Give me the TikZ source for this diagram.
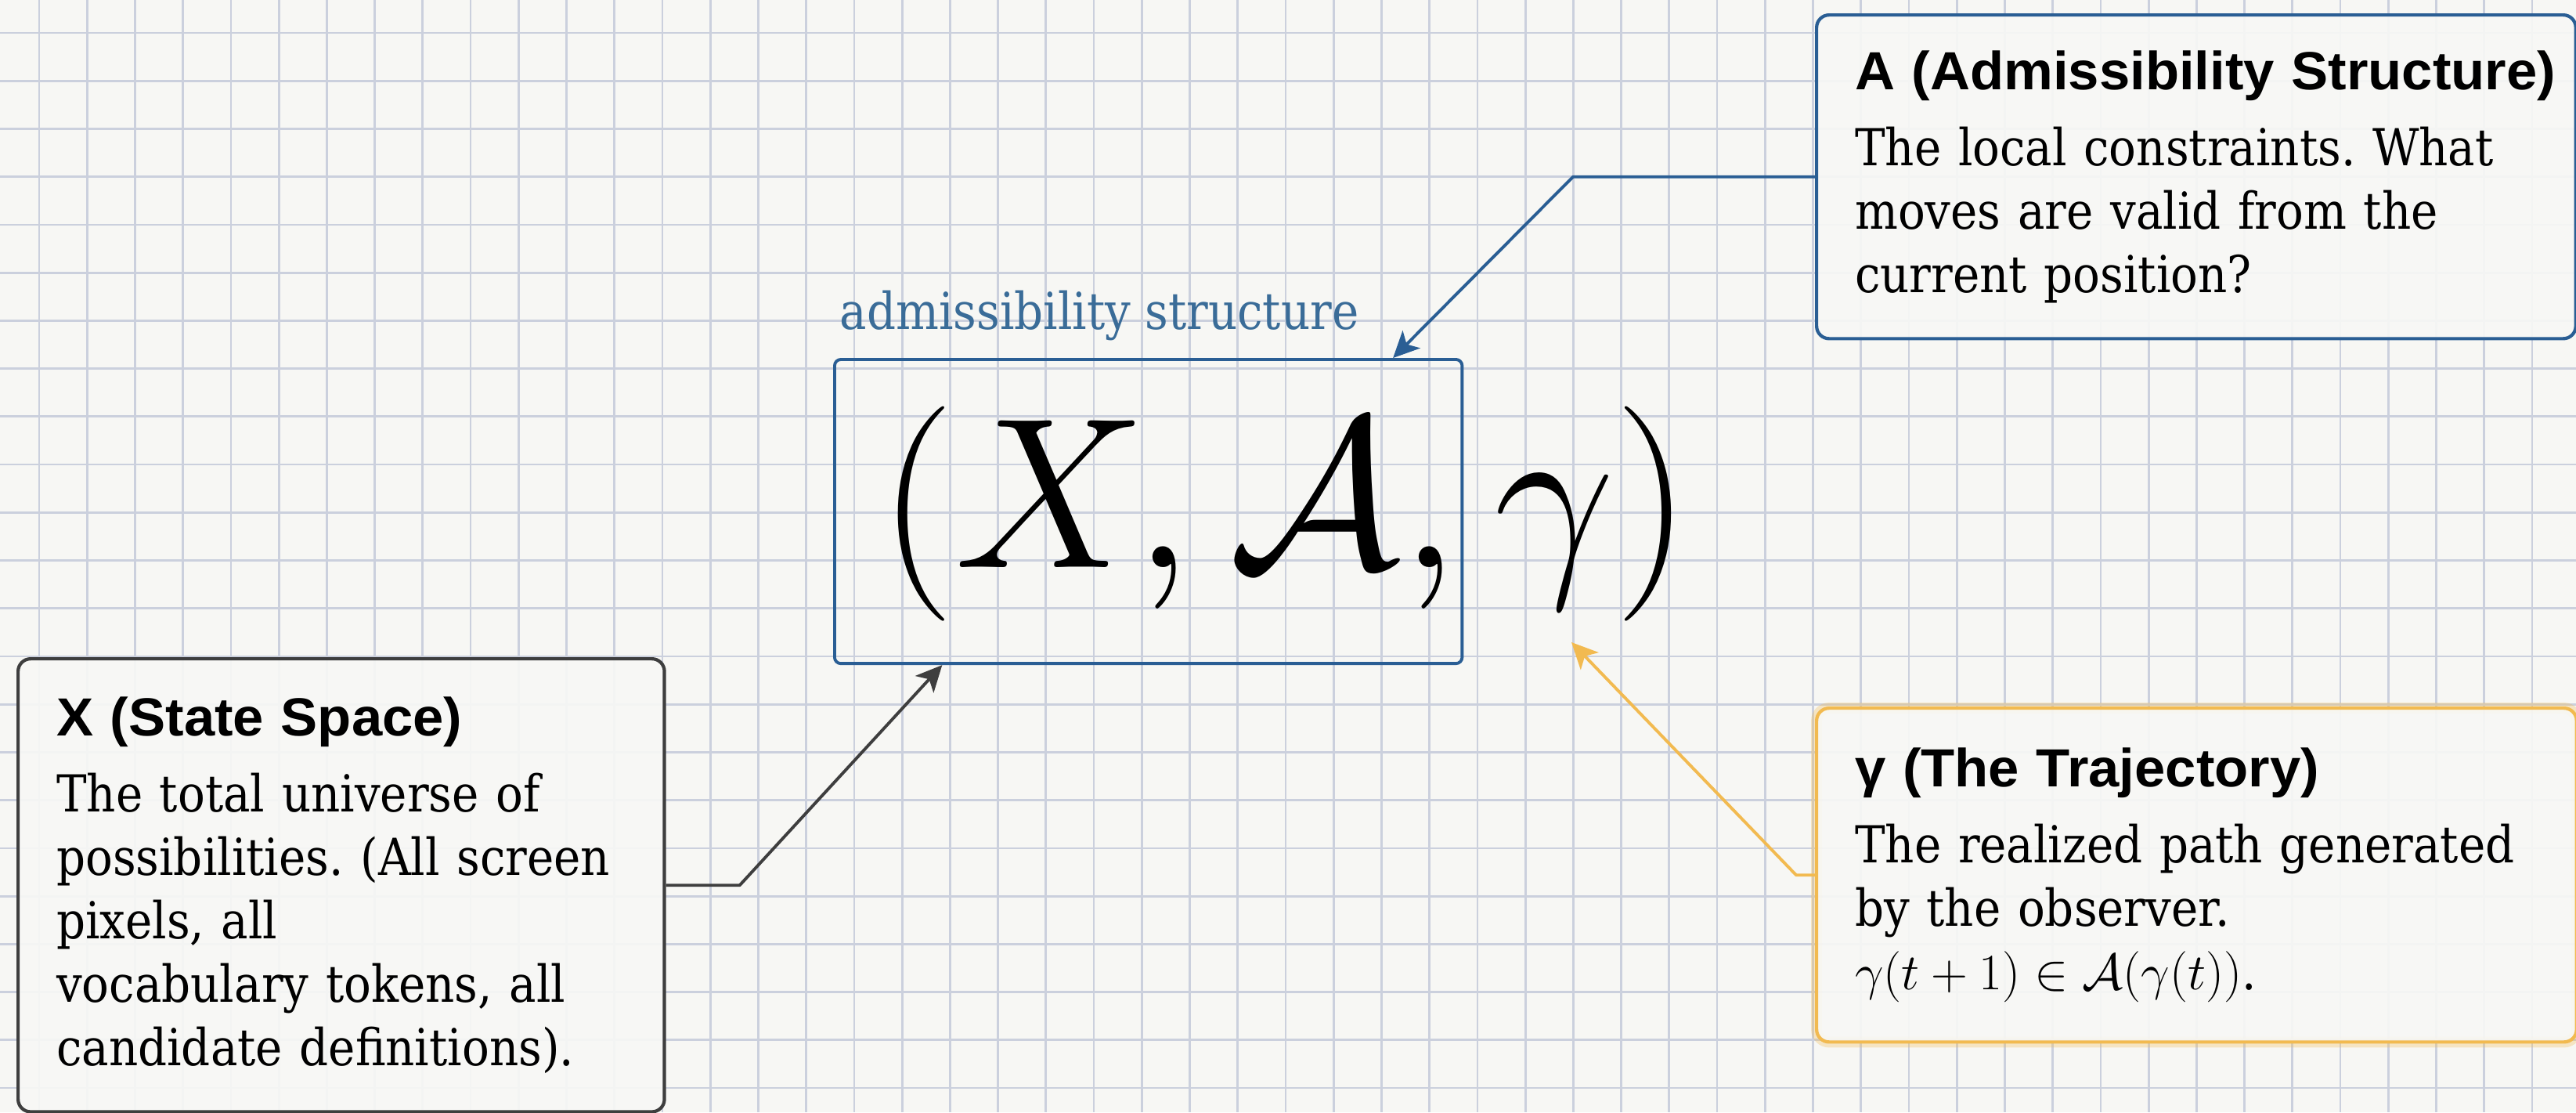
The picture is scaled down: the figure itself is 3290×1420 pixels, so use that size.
\RequirePackage{fix-cm}
\documentclass[tikz,border=0pt]{standalone}
\usepackage{amsmath}
\usepackage[no-math]{fontspec}
\usepackage{tikz}
\usetikzlibrary{positioning,calc,arrows.meta}
\newfontfamily\serifface{DejaVu Serif}[FakeStretch=0.89]
\newfontfamily\headface{Liberation Sans}[FakeStretch=1.03]
\newcommand{\bodyfont}{\serifface\fontsize{18.5}{23}\selectfont\frenchspacing}
\newcommand{\headfont}{\headface\bfseries\fontsize{19.5}{23}\selectfont}
\newcommand{\cardhead}[1]{\mbox{\headfont #1}\\[4.5pt]}
\definecolor{paper}{RGB}{247,247,244}
\definecolor{gridc}{RGB}{203,208,221}
\definecolor{ablue}{RGB}{42,94,148}
\definecolor{tagblue}{RGB}{58,108,152}
\definecolor{xgray}{RGB}{62,62,62}
\definecolor{gorange}{RGB}{242,186,80}
\definecolor{cardfill}{RGB}{248,248,246}

\begin{document}
\begin{tikzpicture}[x=0.01cm,y=-0.01cm,font=\bodyfont]
  % pixel grid: x 0--3290, y 0--1420 (y down)
  \useasboundingbox (0,0) rectangle (3290,1420);
  \fill[paper] (0,0) rectangle (3290,1420);
  \tikzset{gridline/.style={draw=gridc,line width=0.8pt},
           card/.style={draw=#1,line width=1.2pt,rounded corners=0.16cm,fill=cardfill,
                        fill opacity=0.9,text opacity=1,inner xsep=0.49cm,inner ysep=0pt,
                        align=left,anchor=north west},
           link/.style={draw=#1,line width=1.1pt,line join=round,
                        -{Stealth[length=9.5pt,width=9pt,inset=2.5pt]}}}
  \foreach \gx in {0,...,52}
    \draw[gridline] ({50+61.23*\gx},0) -- ({50+61.23*\gx},1420);
  \foreach \gy in {0,...,22}
    \draw[gridline] (0,{42+61.23*\gy}) -- (3290,{42+61.23*\gy});
  % the tuple
  \node[draw=ablue,line width=1.1pt,rounded corners=0.08cm,minimum width=8.01cm,
        minimum height=3.88cm,inner sep=0pt,anchor=north west] (admbox) at (1064,457) {};
  \node[anchor=base west,inner sep=0pt,text=tagblue] (admtag) at ($(admbox.north west)+(8,-37)$) {admissibility structure};
  \node[inner sep=0pt,font=\fontsize{78}{82}\selectfont] (tuple) at (1641,656) {$(X,\mathcal{A},\gamma)$};
  \coordinate (gam) at (2007,820);
  % cards
  \node[card=ablue,text width=8.71cm,minimum height=4.13cm] (abox) at (2318,17)
    {\cardhead{A (Admissibility Structure)}The local constraints. What\\moves are valid from the\\current position?};
  \node[card=xgray,text width=7.27cm,minimum height=5.78cm] (xbox) at (21,839)
    {\cardhead{X (State Space)}The total universe of\\possibilities. (All screen\\pixels, all\\vocabulary tokens, all\\candidate definitions).};
  \node[card=gorange,text width=8.72cm,minimum height=4.26cm,
        preaction={draw=gorange,line width=4pt,draw opacity=0.3}] (gbox) at (2318,902)
    {\cardhead{γ (The Trajectory)}The realized path generated\\by the observer.\\$\gamma(t+1)\in\mathcal{A}(\gamma(t))$.};
  % connectors
  \draw[link=ablue] (abox.west) -- ++(-309,0) -- ($(admbox.north west)!0.888!(admbox.north east)$);
  \draw[link=xgray] (xbox.east) -- ++(94,0) -- ($(admbox.south west)!0.173!(admbox.south east)$);
  \draw[link=gorange] (gbox.west) -- ++(-24,0) -- (gam);
\end{tikzpicture}
\end{document}
